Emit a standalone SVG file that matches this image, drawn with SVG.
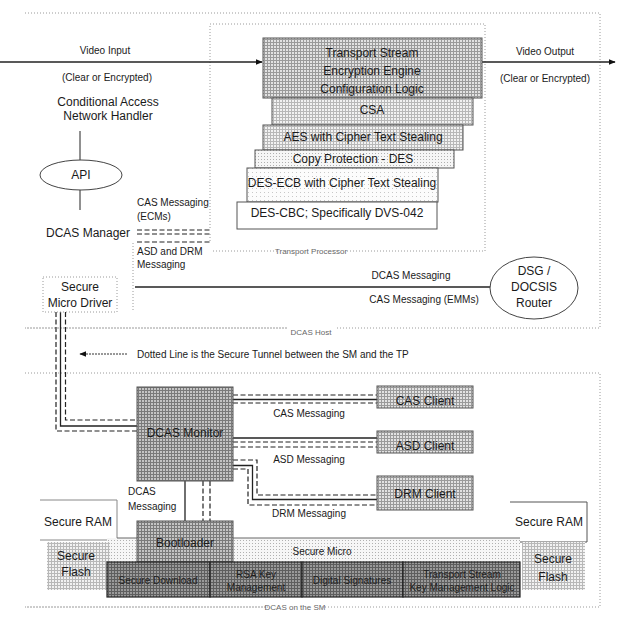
<svg xmlns="http://www.w3.org/2000/svg" width="618" height="619" viewBox="0 0 618 619">
  <defs>
    <!-- halftone style fills -->
    <pattern id="grid-dark" width="3" height="3" patternUnits="userSpaceOnUse">
      <rect width="3" height="3" fill="#c4c4c4"/>
      <path d="M0 0.5H3M0.5 0V3" stroke="#7a7a7a" stroke-width="1"/>
    </pattern>
    <pattern id="grid-mid" width="3" height="3" patternUnits="userSpaceOnUse">
      <rect width="3" height="3" fill="#e2e2e2"/>
      <path d="M0 0.5H3M0.5 0V3" stroke="#9a9a9a" stroke-width="1"/>
    </pattern>
    <pattern id="grid-light" width="3" height="3" patternUnits="userSpaceOnUse">
      <rect width="3" height="3" fill="#f2f2f2"/>
      <path d="M0 0.5H3M0.5 0V3" stroke="#b8b8b8" stroke-width="1"/>
    </pattern>
    <pattern id="dots" width="3" height="3" patternUnits="userSpaceOnUse">
      <rect width="3" height="3" fill="#f6f6f6"/>
      <rect width="1" height="1" fill="#b0b0b0"/>
    </pattern>
    <pattern id="dots-sparse" width="4" height="4" patternUnits="userSpaceOnUse">
      <rect width="4" height="4" fill="#fcfcfc"/>
      <rect width="1" height="1" fill="#c8c8c8"/>
    </pattern>
    <pattern id="crypto" width="3" height="3" patternUnits="userSpaceOnUse">
      <rect width="3" height="3" fill="#9a9a9a"/>
      <path d="M0 0.5H3M0.5 0V3" stroke="#5e5e5e" stroke-width="1"/>
    </pattern>
    <marker id="arrow" viewBox="0 0 10 10" refX="9" refY="5" markerWidth="7" markerHeight="7" orient="auto-start-reverse" markerUnits="userSpaceOnUse">
      <path d="M0 1L10 5L0 9Z" fill="#111"/>
    </marker>
  </defs>
  <style>
    text { font-family: "Liberation Sans", Arial, sans-serif; fill: #1a1a1a; }
    .t12 { font-size: 12px; }
    .t10 { font-size: 10px; }
    .small { font-size: 8px; fill: #666; }
    .c { text-anchor: middle; }
    .frame { fill: none; stroke: #9a9a9a; stroke-width: 1; stroke-dasharray: 1 2; }
    .solid { fill: none; stroke: #222; stroke-width: 1.3; }
    .dash { fill: none; stroke: #222; stroke-width: 1.2; stroke-dasharray: 5 2.5; }
    .box { stroke: #555; stroke-width: 1; }
    .crypto-text { font-size: 10px; fill: #1e1e1e; }
  </style>
  <rect width="618" height="619" fill="#fff"/>

  <!-- enclosing regions -->
  <g id="dcas-host">
    <path class="frame" d="M25 13H600V328H335M287 328H25Z"/>
    <text class="small c" x="311" y="335">DCAS Host</text>
  </g>
  <g id="transport-processor">
    <path class="frame" d="M210 228V24H485V251H345M277 251H213"/>
    <path class="frame" d="M133 243V312"/>
    <text class="small c" x="311" y="254">Transport Processor</text>
  </g>
  <g id="dcas-sm">
    <path class="frame" d="M25 373H600V607H322M268 607H25Z"/>
    <text class="small c" x="295" y="610">DCAS on the SM</text>
  </g>

  <!-- connectors -->
  <g id="connectors">
    <!-- video path -->
    <line class="solid" x1="0" y1="62" x2="262" y2="62" marker-end="url(#arrow)"/>
    <line class="solid" x1="482" y1="62" x2="615" y2="62" marker-end="url(#arrow)"/>
    <!-- handler / API / manager -->
    <line x1="80" y1="131" x2="80" y2="160" stroke="#222" stroke-width="1"/>
    <line x1="80" y1="190" x2="80" y2="210" stroke="#222" stroke-width="1"/>
    <!-- DCAS manager to transport processor -->
    <line class="dash" x1="137" y1="230" x2="210" y2="230"/>
    <line class="dash" x1="137" y1="234" x2="210" y2="234"/>
    <line class="dash" x1="137" y1="242" x2="210" y2="242"/>
    <line class="frame" x1="210" y1="234" x2="210" y2="242"/>
    <!-- host messaging to router -->
    <line class="solid" x1="135" y1="287" x2="491" y2="287"/>
    <!-- secure tunnel from micro driver to monitor -->
    <path class="dash" d="M65.5 312V420H137"/>
    <path class="solid" d="M60.5 312V426H137"/>
    <path class="dash" d="M56 312V431H137"/>
    <!-- legend arrow -->
    <line x1="127" y1="354" x2="80" y2="354" stroke="#333" stroke-width="1" stroke-dasharray="2 1" marker-end="url(#arrow)"/>
    <!-- monitor to clients -->
    <line class="dash" x1="233" y1="395" x2="377" y2="395"/>
    <line class="solid" x1="233" y1="399.5" x2="377" y2="399.5"/>
    <line class="dash" x1="233" y1="403" x2="377" y2="403"/>
    <line class="solid" x1="233" y1="438" x2="377" y2="438"/>
    <line class="dash" x1="233" y1="442" x2="377" y2="442"/>
    <line class="dash" x1="233" y1="447" x2="377" y2="447"/>
    <path class="dash" d="M233 460H257V495H377"/>
    <path class="solid" d="M233 465.5H252.5V499.5H377"/>
    <path class="dash" d="M233 469H248V505H377"/>
    <!-- monitor to bootloader -->
    <line class="solid" x1="185" y1="481" x2="185" y2="521"/>
    <line class="dash" x1="203" y1="481" x2="203" y2="521"/>
    <line class="dash" x1="210" y1="481" x2="210" y2="521"/>
  </g>

  <!-- connector labels -->
  <g id="labels">
    <text class="t10 c" x="105" y="54">Video Input</text>
    <text class="t10 c" x="107" y="81">(Clear or Encrypted)</text>
    <text class="t10 c" x="545" y="55">Video Output</text>
    <text class="t10 c" x="545" y="82">(Clear or Encrypted)</text>
    <text class="t10" x="137" y="206">CAS Messaging</text>
    <text class="t10" x="137" y="220">(ECMs)</text>
    <text class="t10" x="137" y="255">ASD and DRM</text>
    <text class="t10" x="137" y="268">Messaging</text>
    <text class="t10 c" x="411" y="279">DCAS Messaging</text>
    <text class="t10 c" x="424" y="303">CAS Messaging (EMMs)</text>
    <text class="t10" x="137" y="358">Dotted Line is the Secure Tunnel between the SM and the TP</text>
    <text class="t10 c" x="309" y="417">CAS Messaging</text>
    <text class="t10 c" x="309" y="463">ASD Messaging</text>
    <text class="t10 c" x="309" y="517">DRM Messaging</text>
    <text class="t10" x="128" y="495">DCAS</text>
    <text class="t10" x="128" y="510">Messaging</text>
  </g>

  <!-- host side nodes -->
  <g id="ca-handler">
    <text class="t12 c" x="108" y="106">Conditional Access</text>
    <text class="t12 c" x="108" y="120">Network Handler</text>
  </g>
  <g id="api">
    <ellipse cx="81" cy="175" rx="41" ry="15" fill="#fff" stroke="#444" stroke-width="1"/>
    <text class="t12 c" x="81" y="179">API</text>
  </g>
  <g id="dcas-manager">
    <text class="t12 c" x="88" y="237">DCAS Manager</text>
  </g>
  <g id="secure-micro-driver">
    <rect class="frame" x="43" y="277" width="74" height="35" fill="#fff"/>
    <text class="t12 c" x="80" y="291">Secure</text>
    <text class="t12 c" x="80" y="307">Micro Driver</text>
  </g>
  <g id="dsg-router">
    <ellipse cx="534" cy="288" rx="44" ry="31" fill="#fff" stroke="#444" stroke-width="1"/>
    <text class="t12 c" x="534" y="275">DSG /</text>
    <text class="t12 c" x="534" y="291">DOCSIS</text>
    <text class="t12 c" x="534" y="307">Router</text>
  </g>

  <!-- transport stream engine stack -->
  <g id="ts-config">
    <rect class="box" x="263" y="38" width="219" height="60" fill="url(#grid-mid)"/>
    <text class="t12 c" x="372" y="57">Transport Stream</text>
    <text class="t12 c" x="372" y="75">Encryption Engine</text>
    <text class="t12 c" x="372" y="93">Configuration Logic</text>
  </g>
  <g id="csa">
    <rect class="box" x="272" y="98" width="201" height="27" fill="url(#grid-light)"/>
    <text class="t12 c" x="372" y="114">CSA</text>
  </g>
  <g id="aes">
    <rect class="box" x="263" y="125" width="200" height="25" fill="url(#grid-light)"/>
    <text class="t12 c" x="363" y="141">AES with Cipher Text Stealing</text>
  </g>
  <g id="copy-protection">
    <rect class="box" x="255" y="150" width="199" height="18" fill="url(#dots)"/>
    <text class="t12 c" x="353" y="163">Copy Protection - DES</text>
  </g>
  <g id="des-ecb">
    <rect class="box" x="247" y="168" width="191" height="34" fill="url(#dots-sparse)"/>
    <text class="t12 c" x="342" y="187">DES-ECB with Cipher Text Stealing</text>
  </g>
  <g id="des-cbc">
    <rect class="box" x="237" y="202" width="200" height="27" fill="#fff"/>
    <text class="t12 c" x="337" y="217">DES-CBC; Specifically DVS-042</text>
  </g>

  <!-- secure micro side -->
  <g id="dcas-monitor">
    <rect class="box" x="137" y="387" width="96" height="94" fill="url(#grid-dark)"/>
    <text class="t12 c" x="185" y="437">DCAS Monitor</text>
  </g>
  <g id="cas-client">
    <rect class="box" x="377" y="386" width="96" height="22" fill="url(#grid-mid)"/>
    <text class="t12 c" x="425" y="405">CAS Client</text>
  </g>
  <g id="asd-client">
    <rect class="box" x="377" y="431" width="96" height="22" fill="url(#grid-mid)"/>
    <text class="t12 c" x="425" y="450">ASD Client</text>
  </g>
  <g id="drm-client">
    <rect class="box" x="377" y="476" width="96" height="34" fill="url(#grid-mid)"/>
    <text class="t12 c" x="425" y="498">DRM Client</text>
  </g>

  <g id="secure-ram-left">
    <path d="M40 500H117V540H40" fill="#fff" stroke="#888" stroke-width="1"/>
    <text class="t12 c" x="78" y="526">Secure RAM</text>
  </g>
  <g id="secure-ram-right">
    <path d="M510 502H587V542H510" fill="#fff" stroke="#555" stroke-width="1"/>
    <text class="t12 c" x="549" y="526">Secure RAM</text>
  </g>
  <g id="secure-micro">
    <rect x="107" y="538" width="413" height="24" fill="url(#dots)"/>
    <line x1="117" y1="538" x2="520" y2="538" stroke="#666" stroke-width="1"/>
    <text class="t10 c" x="322" y="555">Secure Micro</text>
  </g>
  <g id="secure-flash-left">
    <rect x="47" y="542" width="63" height="48" fill="url(#grid-light)"/>
    <text class="t12 c" x="76" y="560">Secure</text>
    <text class="t12 c" x="76" y="576">Flash</text>
  </g>
  <g id="secure-flash-right">
    <rect x="522" y="542" width="63" height="48" fill="url(#grid-light)"/>
    <text class="t12 c" x="553" y="563">Secure</text>
    <text class="t12 c" x="553" y="581">Flash</text>
  </g>
  <g id="bootloader">
    <rect class="box" x="137" y="521" width="96" height="41" fill="url(#grid-dark)"/>
    <text class="t12 c" x="185" y="547">Bootloader</text>
  </g>
  <g id="secure-download">
    <rect x="107" y="562" width="103" height="35" fill="url(#crypto)" stroke="#222" stroke-width="1.2"/>
    <text class="crypto-text c" x="158" y="584">Secure Download</text>
  </g>
  <g id="rsa-key-management">
    <rect x="210" y="562" width="92" height="35" fill="url(#crypto)" stroke="#222" stroke-width="1.2"/>
    <text class="crypto-text c" x="256" y="578">RSA Key</text>
    <text class="crypto-text c" x="256" y="591">Management</text>
  </g>
  <g id="digital-signatures">
    <rect x="302" y="562" width="101" height="35" fill="url(#crypto)" stroke="#222" stroke-width="1.2"/>
    <text class="crypto-text c" x="352" y="584">Digital Signatures</text>
  </g>
  <g id="ts-key-management">
    <rect x="403" y="562" width="117" height="35" fill="url(#crypto)" stroke="#222" stroke-width="1.2"/>
    <text class="crypto-text c" x="462" y="578">Transport Stream</text>
    <text class="crypto-text c" x="462" y="591">Key Management Logic</text>
  </g>
</svg>
